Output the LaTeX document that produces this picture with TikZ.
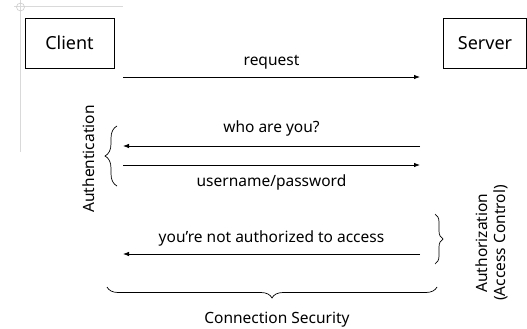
\documentclass[tikz,border=0pt]{standalone}
\usepackage{fontspec}
\setmainfont{Noto Sans}
\usetikzlibrary{arrows.meta,decorations.pathreplacing}
\begin{document}
\begin{tikzpicture}[x=1pt,y=-1pt,
  box/.style={draw,line width=0.8pt,inner sep=0pt,font=\fontsize{18}{20}\selectfont},
  lbl/.style={font=\fontsize{15.5}{18}\selectfont,inner sep=0pt},
  msg/.style={line width=0.8pt,-{Latex[length=6pt,width=4.5pt]}},
  brc/.style={line width=0.7pt,decorate,decoration={brace,amplitude=#1}},
  guide/.style={draw=black!15,line width=1pt}]
\useasboundingbox (0,0) rectangle (527,329);
% guide lines
\draw[guide] (14,7) -- (123,7);
\draw[guide] (20.5,0) -- (20.5,152);
\draw[black!20,line width=0.6pt] (20.5,7) circle (4);
% nodes
\node[box,minimum width=89pt,minimum height=50pt] (client) at (69.5,43) {Client};
\node[box,minimum width=83pt,minimum height=50pt] (server) at (485,43) {Server};
% coordinates
\coordinate (r1) at (123,77);   \coordinate (r2) at (420,77);
\coordinate (w1) at (420,146);  \coordinate (w2) at (123,146);
\coordinate (u1) at (123,165);  \coordinate (u2) at (420,165);
\coordinate (n1) at (420,254);  \coordinate (n2) at (123,254);
% messages
\draw[msg] (r1) -- node[lbl,above=7pt] (lreq) {request} (r2);
\draw[msg] (w1) -- node[lbl,above=9pt] (lwho) {who are you?} (w2);
\draw[msg] (u1) -- node[lbl,below=9pt] (luser) {username/password} (u2);
\draw[msg] (n1) -- node[lbl,above=7pt] (lnot) {you’re not authorized to access} (n2);
% braces
\coordinate (b1a) at (117,186); \coordinate (b1b) at (117,126);
\draw[brc=12pt] (b1a) -- (b1b);
\node[lbl,rotate=90] (auth) at (89,159) {Authentication};
\coordinate (b2a) at (435,214); \coordinate (b2b) at (435,264);
\draw[brc=8pt] (b2a) -- (b2b);
\node[lbl,rotate=90,align=center] (authz) at (492,243) {Authorization\\(Access Control)};
\coordinate (b3a) at (437,287); \coordinate (b3b) at (107,287);
\draw[brc=11pt] (b3a) -- (b3b);
\node[lbl] (sec) at (277,320) {Connection Security};
\end{tikzpicture}
\end{document}
